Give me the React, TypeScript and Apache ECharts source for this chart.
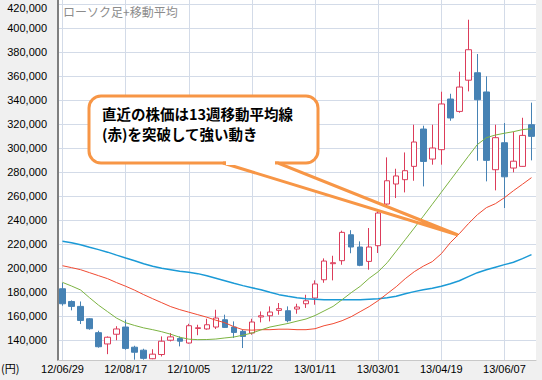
import React, { useEffect, useRef } from 'react';
import * as echarts from 'echarts';

const dates = [
  '12/06/29', '12/07/06', '12/07/13', '12/07/20', '12/07/27', '12/08/03', '12/08/10',
  '12/08/17', '12/08/24', '12/08/31', '12/09/07', '12/09/14', '12/09/21', '12/09/28',
  '12/10/05', '12/10/12', '12/10/19', '12/10/26', '12/11/02', '12/11/09', '12/11/16',
  '12/11/22', '12/11/30', '12/12/07', '12/12/14', '12/12/21', '12/12/28', '13/01/04',
  '13/01/11', '13/01/18', '13/01/25', '13/02/01', '13/02/08', '13/02/15', '13/02/22',
  '13/03/01', '13/03/08', '13/03/15', '13/03/22', '13/03/29', '13/04/05', '13/04/12',
  '13/04/19', '13/04/26', '13/05/02', '13/05/10', '13/05/17', '13/05/24', '13/05/31',
  '13/06/07', '13/06/14', '13/06/21', '13/06/28',
];

const opens = [
  182700, 172100, 168000, 157700, 146100, 136700, 144800, 150800, 134000, 131500,
  124400, 127900, 139800, 141300, 137500, 149600, 149200, 150800, 156900, 150800,
  147200, 145800, 159200, 160200, 164700, 164400, 165800, 170200, 175000, 190200,
  203600, 206100, 227700, 217500, 205500, 218600, 253300, 270000, 273600, 284700,
  315800, 290800, 298600, 340800, 330500, 356500, 362700, 346700, 281900, 304400,
  283300, 284700, 319400,
];
const closes = [
  170200, 168000, 156300, 149400, 134400, 142300, 149200, 133000, 129800, 124700,
  128200, 139000, 142600, 139000, 151900, 150200, 152700, 158300, 150500, 146300,
  143000, 155000, 160200, 163300, 166100, 156100, 167500, 172700, 186700, 205800,
  204400, 229700, 217500, 202200, 217500, 245800, 272700, 276700, 281100, 305000,
  288800, 300000, 336700, 325000, 350800, 381900, 340200, 289700, 308600, 276000,
  289000, 310500, 309700,
];
const lows = [
  168600, 164700, 153300, 148600, 133600, 128200, 139800, 131900, 123600, 123600,
  124000, 126300, 138800, 134700, 137000, 144000, 148600, 149200, 150000, 141700,
  133300, 144400, 154700, 155500, 161100, 154700, 161900, 166700, 169400, 187700,
  189700, 202700, 212300, 201500, 198600, 212500, 248600, 258300, 263000, 272700,
  268000, 286100, 286100, 322700, 329400, 347200, 289400, 272200, 264700, 250000,
  279700, 284400, 289700,
];
const highs = [
  187700, 173000, 172100, 158300, 147700, 143000, 151500, 156900, 135200, 132700,
  132300, 143000, 145800, 143000, 153500, 152700, 157700, 165200, 161100, 155500,
  148600, 157700, 163800, 168000, 170800, 168000, 170200, 177700, 189700, 208000,
  210200, 231100, 231500, 222200, 233300, 247700, 292200, 282700, 296300, 319400,
  318600, 319400, 346900, 345200, 363600, 406900, 378300, 359700, 319400, 320800,
  313600, 325200, 337800,
];

const ma13 = [
  188000, 185000, 181700, 175200, 169000, 163600, 158200, 154400, 152100, 150100,
  148600, 146900, 144800, 142300, 140700, 140300, 140400, 140800, 141700, 142500,
  144000, 145800, 148400, 150800, 152300, 153800, 155700, 157500, 160400, 164200,
  168000, 173600, 179400, 184700, 191400, 196900, 204400, 214000, 223600, 233300,
  243100, 253100, 263100, 273100, 283100, 293100, 302900, 308600, 310800, 312300,
  313600, 315300, 316100,
];
const ma26 = [
  201900, 200300, 198600, 196100, 193600, 191100, 187800, 184800, 181500, 177800,
  174400, 171100, 167800, 165300, 163200, 161100, 159000, 156500, 154400, 151100,
  148600, 148200, 148600, 148600, 149000, 149000, 148600, 148600, 149400, 151900,
  153600, 156100, 159400, 163600, 167800, 172800, 178600, 184400, 191100, 196900,
  201500, 205300, 211900, 221100, 228600, 236900, 244400, 250300, 253600, 258600,
  264400, 269800, 275300,
];
const ma52 = [
  222200, 221100, 219400, 217300, 215300, 213200, 210700, 208300, 206100, 203600,
  201500, 199800, 198600, 197300, 196500, 195300, 193600, 191500, 189400, 187300,
  185300, 183600, 181900, 179800, 177800, 176500, 175300, 174400, 174000, 173600,
  173600, 173600, 173600, 173600, 174000, 174400, 175300, 176500, 178600, 180300,
  181900, 183200, 184800, 186900, 189400, 192800, 196100, 198600, 200700, 202800,
  204800, 207800, 211100,
];

const yTicks = [
  140000, 160000, 180000, 200000, 220000, 240000, 260000, 280000,
  300000, 320000, 340000, 360000, 380000, 400000, 420000,
];

const chartTitle = 'ローソク足+移動平均';
const unitLabel = '(円)';
const noteLines = ['直近の株価は13週移動平均線', '(赤)を突破して強い動き'];

export default function App() {
  const ref = useRef<HTMLDivElement>(null);

  useEffect(() => {
    const chart = echarts.init(ref.current as HTMLDivElement, null, { renderer: 'svg' });
    const candles = dates.map((_, i) => [opens[i], closes[i], lows[i], highs[i]]);
    const axisFont = '"Liberation Sans", Arial, sans-serif';
    const jp = '"Noto Sans CJK JP", sans-serif';
    const topTick = yTicks[yTicks.length - 1];
    chart.setOption({
      animation: false,
      backgroundColor: '#f0f0f0',
      grid: {
        left: 58,
        right: 6,
        top: 0,
        bottom: 20,
        show: true,
        backgroundColor: '#ffffff',
        borderWidth: 0,
        containLabel: false,
        outerBoundsMode: 'none',
      },
      xAxis: {
        type: 'category',
        data: dates,
        boundaryGap: true,
        axisLine: { show: true, lineStyle: { color: '#c8c8c8', width: 1 } },
        axisTick: { show: false, alignWithLabel: true, interval: 6 },
        axisLabel: {
          interval: 6,
          margin: 3,
          color: '#000',
          fontSize: 11,
          fontFamily: axisFont,
        },
        splitLine: {
          show: true,
          interval: 6,
          alignWithLabel: true,
          lineStyle: { color: '#d3dbe8', width: 1 },
        },
      },
      yAxis: {
        type: 'value',
        min: 123333.33,
        max: 423333.33,
        axisLine: { show: true, lineStyle: { color: '#7f7f7f', width: 2 } },
        axisTick: { show: false, customValues: yTicks },
        axisLabel: {
          customValues: yTicks,
          formatter: (v: number) => {
            const s = Math.round(v).toLocaleString('en-US');
            return Math.round(v) === topTick ? `{top|${s}}` : s;
          },
          rich: {
            top: {
              padding: [7, 0, 0, 0],
              fontSize: 11,
              fontFamily: axisFont,
              color: '#000',
            },
          },
          margin: 11,
          color: '#000',
          fontSize: 11,
          fontFamily: axisFont,
        },
        splitLine: { show: true, lineStyle: { color: '#d3dbe8', width: 1 } },
      },
      series: [
        {
          type: 'candlestick',
          data: candles,
          barWidth: 6,
          itemStyle: {
            color: '#ffffff',
            color0: '#4682b4',
            borderColor: '#dc3c5a',
            borderColor0: '#4682b4',
            borderWidth: 1,
          },
        },
        {
          type: 'line',
          data: ma52,
          symbol: 'none',
          lineStyle: { color: '#1b9ad6', width: 1.5 },
        },
        {
          type: 'line',
          data: ma26,
          symbol: 'none',
          lineStyle: { color: '#f04a32', width: 1 },
        },
        {
          type: 'line',
          data: ma13,
          symbol: 'none',
          lineStyle: { color: '#7cb342', width: 1 },
        },
      ],
      graphic: {
        elements: [
          {
            type: 'text',
            z: 100,
            left: 63,
            top: 5,
            style: { text: chartTitle, fill: '#8c8c8c', font: `12px ${jp}` },
          },
          {
            type: 'text',
            z: 100,
            left: 1,
            top: 362,
            style: { text: unitLabel, fill: '#000', font: `11px ${jp}` },
          },
          {
            type: 'rect',
            z: 100,
            shape: { x: 89, y: 96, width: 229, height: 67, r: 12 },
            style: { fill: '#ffffff', stroke: '#f79646', lineWidth: 3 },
          },
          {
            type: 'polygon',
            z: 101,
            shape: { points: [[223, 163], [458, 235], [278, 163]] },
            style: { fill: '#ffffff', stroke: '#f79646', lineWidth: 3 },
          },
          {
            type: 'line',
            z: 102,
            shape: { x1: 226, y1: 163, x2: 275, y2: 163 },
            style: { stroke: '#ffffff', lineWidth: 4 },
          },
          {
            type: 'text',
            z: 103,
            left: 102,
            top: 103,
            style: {
              text: noteLines.join('\n'),
              fill: '#000',
              font: `bold 14.5px ${jp}`,
              lineHeight: 20,
            },
          },
        ],
      },
    });
    return () => chart.dispose();
  }, []);

  return (
    <div
      ref={ref}
      style={{ position: 'absolute', left: 0, top: 0, width: 542, height: 380 }}
    />
  );
}
